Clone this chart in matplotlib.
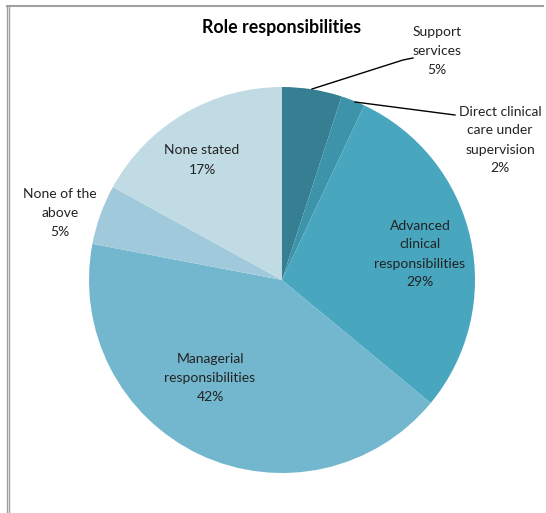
import matplotlib.pyplot as plt
from matplotlib.lines import Line2D

plt.rcParams['font.family'] = ['Lato', 'DejaVu Sans']

categories = ['Support\nservices', 'Direct clinical\ncare under\nsupervision',
              'Advanced\nclinical\nresponsibilities', 'Managerial\nresponsibilities',
              'None of the\nabove', 'None stated']
shares = [5, 2, 29, 42, 5, 17]
colors = ['#367e92', '#3d93aa', '#48a6bf', '#72b7ce', '#a0cadb', '#c1dbe5']

W, H = 546, 513
fig = plt.figure(figsize=(W / 100, H / 100), dpi=100)
ax = fig.add_axes((0, 0, 1, 1))

cx, cy, r = 282, H - 280, 193
ax.pie(shares, colors=colors, startangle=90, counterclock=False,
       center=(cx, cy), radius=r, wedgeprops=dict(linewidth=0))
ax.set_xlim(0, W)
ax.set_ylim(0, H)
ax.set_aspect('equal')
ax.axis('off')

# label spots in pixel space (x, y from top)
spots = [(437, 51), (500, 140), (420, 254), (210, 378), (60, 213), (202, 160)]
for name, val, (x, y) in zip(categories, shares, spots):
    ax.text(x, H - y, f'{name}\n{val}%', ha='center', va='center',
            fontsize=10, color='#222222', linespacing=1.7)

# leader lines for the two thin slices
ax.add_line(Line2D([312, 403, 413], [H - 89, H - 60, H - 58], color='black', lw=1))
ax.add_line(Line2D([355, 455], [H - 102, H - 115], color='black', lw=1))

ax.text(cx, H - 28, 'Role responsibilities', ha='center', va='center',
        fontsize=12.8, fontweight='bold', color='black')

# outer frame
ax.add_line(Line2D([7, 543], [H - 5.8, H - 5.8], color='#a0a0a0', lw=1.5))
ax.add_line(Line2D([7.3, 7.3], [0, H - 5.8], color='#a0a0a0', lw=1))
ax.add_line(Line2D([9.3, 9.3], [0, H - 5.8], color='#a0a0a0', lw=1))

fig.savefig('out.png', dpi=100)
